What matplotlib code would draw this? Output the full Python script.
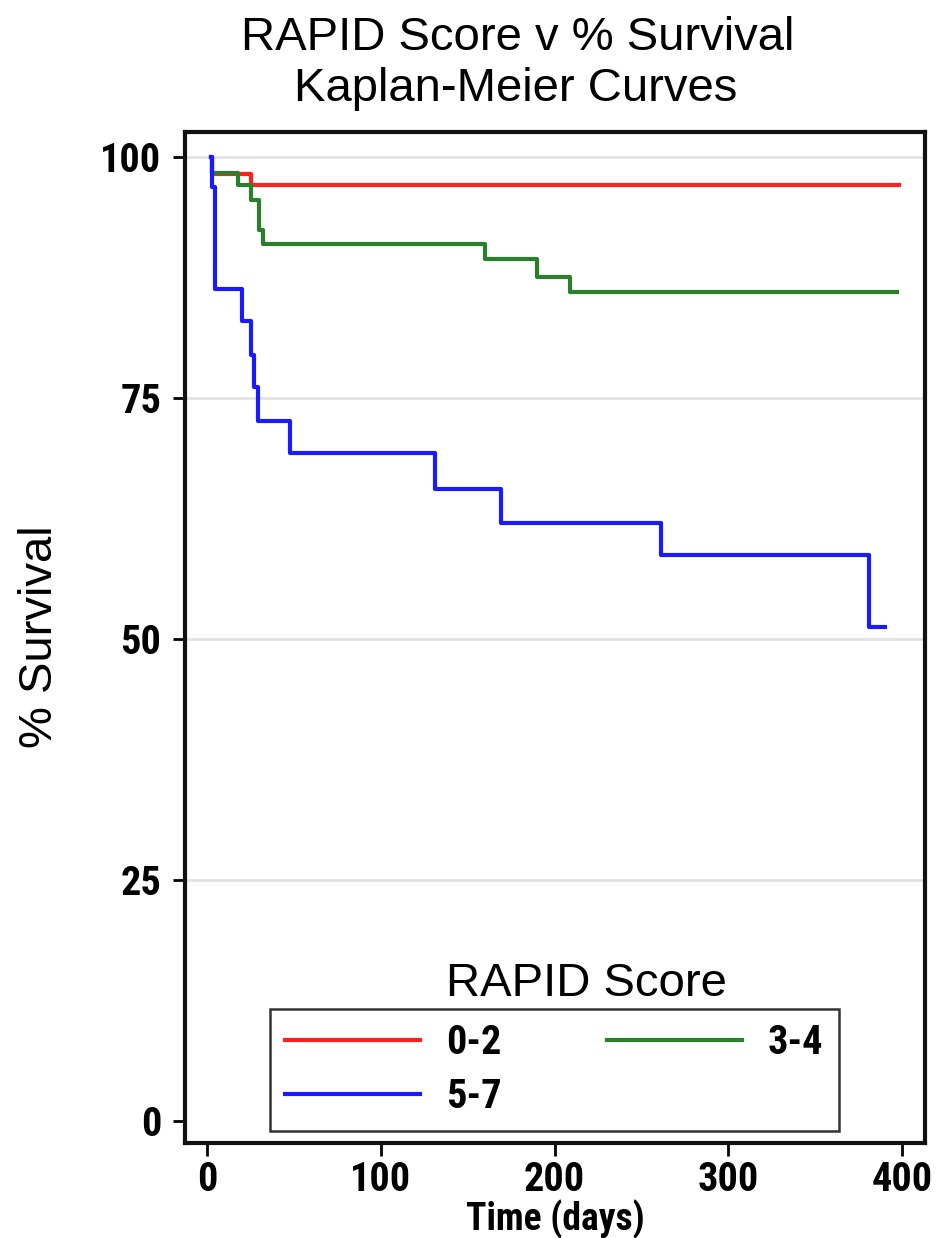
import matplotlib
matplotlib.use("Agg")
import matplotlib.pyplot as plt
from matplotlib.lines import Line2D

# ---- data ----
groups = ["0-2", "3-4", "5-7"]
time_02 = [2, 3, 25, 398]
surv_02 = [100, 98.2, 97.1, 97.1]
time_34 = [2, 3, 18, 25, 30, 32, 160, 190, 209, 397]
surv_34 = [100, 98.3, 97.1, 95.5, 92.4, 91.0, 89.4, 87.6, 86.0, 86.0]
time_57 = [2, 3, 4.5, 20, 25, 27, 29.5, 48, 131, 169, 261, 381, 390]
surv_57 = [100, 96.9, 86.3, 83.0, 79.5, 76.1, 72.6, 69.3, 65.6, 62.0, 58.7, 51.2, 51.2]
xticks = [0, 100, 200, 300, 400]
yticks = [0, 25, 50, 75, 100]

colors = {"0-2": "#FF2020", "3-4": "#2A7F2A", "5-7": "#1A1AFF"}

W, H = 944, 1238
fig = plt.figure(figsize=(W / 100, H / 100), dpi=100)
L, R, T, B = 185, 925, 132, 1143
ax = fig.add_axes([L / W, 1 - B / H, (R - L) / W, (B - T) / H])

narrow = ["Liberation Sans Narrow", "Roboto Condensed", "Noto Sans Condensed",
          "DejaVu Sans"]
sans = ["Liberation Sans", "DejaVu Sans"]
FS = 29
nfont = dict(family=narrow, size=FS, weight="bold", stretch="condensed")

for y in [25, 50, 75, 100]:
    ax.axhline(y, color="#E2E2E2", lw=2.0, zorder=0)

series = [(time_02, surv_02, "0-2"), (time_34, surv_34, "3-4"), (time_57, surv_57, "5-7")]
for t, s, g in series:
    ax.step(t, s, where="post", color=colors[g], lw=3.0, zorder=3)

ax.set_xlim(-12.7, 413.2)
ax.set_ylim(-2.3, 102.6)
ax.set_xticks(xticks)
ax.set_yticks(yticks)
ax.set_xticklabels([str(v) for v in xticks], fontdict=nfont)
ax.set_yticklabels([str(v) for v in yticks], fontdict=nfont)
ax.tick_params(axis="both", direction="out", length=9, width=2, color="black")
ax.tick_params(axis="x", pad=4)
ax.tick_params(axis="y", pad=8)
for sp in ax.spines.values():
    sp.set_linewidth(3)
    sp.set_color("#111111")

ax.set_xlabel("Time (days)", family=narrow, size=27, weight="bold",
              stretch="condensed", labelpad=0)

# column-wise fill: col 1 -> 0-2, 5-7 ; col 2 -> 3-4
order = ["0-2", "5-7", "3-4"]
handles = [Line2D([], [], color=colors[g], lw=3.0) for g in order]
leg = ax.legend(handles, order, ncol=2, loc="lower left",
                bbox_to_anchor=((270 - L) / (R - L), (B - 1131) / (B - T)),
                borderaxespad=0, frameon=True, fancybox=False,
                handlelength=3.35, handletextpad=0.65, labelspacing=0.38,
                borderpad=0.38, columnspacing=2.6,
                prop={"family": narrow, "size": FS, "weight": "bold",
                      "stretch": "condensed"})
leg.get_frame().set_edgecolor("black")
leg.get_frame().set_linewidth(1.8)

fig.text(586 / W, 1 - 996 / H, "RAPID Score", family=sans, fontsize=34,
         ha="center", va="baseline")
fig.text(518 / W, 1 - 50 / H, "RAPID Score v % Survival", family=sans, fontsize=34,
         ha="center", va="baseline")
fig.text(516 / W, 1 - 101 / H, "Kaplan-Meier Curves", family=sans, fontsize=34,
         ha="center", va="baseline")
fig.text(40 / W, 1 - 637 / H, "% Survival", family=sans, fontsize=34,
         ha="center", va="center", rotation=90)

fig.savefig("out.png", dpi=100)
